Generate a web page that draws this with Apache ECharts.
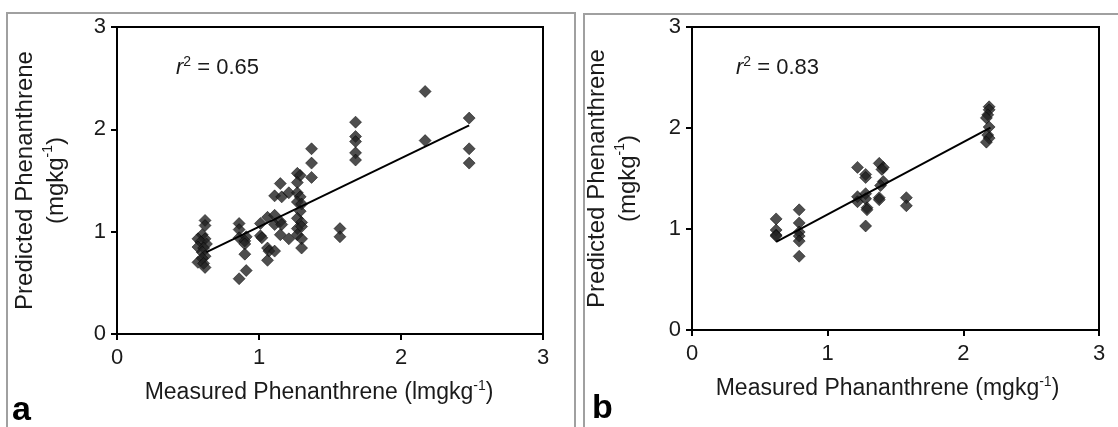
<!DOCTYPE html>
<html>
<head>
<meta charset="utf-8">
<script src="https://cdn.jsdelivr.net/npm/echarts@6/dist/echarts.min.js"></script>
<style>
  html, body { margin: 0; padding: 0; background: #fff; }
  #chart { width: 1118px; height: 427px; }
</style>
</head>
<body>
<div id="chart"></div>
<script>
// Panel a: measured vs predicted phenanthrene (mg/kg)
const measuredA = [
  0.62, 0.62, 0.60, 0.57, 0.62, 0.59, 0.63, 0.57, 0.61, 0.60, 0.62, 0.60, 0.57, 0.61, 0.62,
  0.86, 0.86, 0.86, 0.91, 0.90, 0.90, 0.90, 0.91, 0.86,
  1.01, 1.01, 1.02, 1.06, 1.06, 1.07, 1.06,
  1.11, 1.15, 1.16, 1.11, 1.15, 1.11, 1.16, 1.15, 1.11,
  1.21, 1.21,
  1.27, 1.29, 1.27, 1.27, 1.29, 1.27, 1.30, 1.29, 1.27, 1.30, 1.27, 1.30, 1.27, 1.30, 1.30,
  1.37, 1.37, 1.37,
  1.57, 1.57,
  1.68, 1.68, 1.68, 1.68, 1.68,
  2.17, 2.17,
  2.48, 2.48, 2.48
];
const predictedA = [
  1.11, 1.06, 0.97, 0.93, 0.93, 0.90, 0.88, 0.85, 0.84, 0.80, 0.76, 0.74, 0.70, 0.69, 0.65,
  1.08, 1.02, 0.94, 0.95, 0.91, 0.88, 0.78, 0.62, 0.54,
  1.08, 0.96, 0.94, 1.14, 0.84, 0.81, 0.72,
  1.35, 1.47, 1.34, 1.16, 1.10, 1.07, 1.07, 0.97, 0.81,
  1.38, 0.93,
  1.57, 1.55, 1.48, 1.38, 1.34, 1.29, 1.27, 1.20, 1.13, 1.09, 1.03, 1.05, 0.97, 0.93, 0.84,
  1.81, 1.67, 1.53,
  1.03, 0.95,
  2.07, 1.93, 1.88, 1.77, 1.70,
  2.37, 1.89,
  2.11, 1.81, 1.67
];
// Linear fit for panel a: predicted = interceptA + slopeA * measured
const slopeA = 0.670;
const interceptA = 0.378;
const fitRangeA = [0.63, 2.48];
const r2A = '0.65';

// Panel b
const measuredB = [
  0.62, 0.62, 0.62, 0.62,
  0.79, 0.79, 0.79, 0.79, 0.79, 0.79,
  1.22, 1.22, 1.22,
  1.28, 1.28, 1.28, 1.28, 1.29, 1.29, 1.28,
  1.38, 1.41, 1.40, 1.41, 1.39, 1.38, 1.38,
  1.58, 1.58,
  2.19, 2.19, 2.18, 2.17, 2.19, 2.18, 2.19, 2.17
];
const predictedB = [
  1.10, 0.99, 0.94, 0.93,
  1.19, 1.06, 0.97, 0.93, 0.88, 0.73,
  1.61, 1.32, 1.27,
  1.54, 1.51, 1.35, 1.30, 1.21, 1.19, 1.03,
  1.65, 1.61, 1.59, 1.47, 1.43, 1.31, 1.29,
  1.31, 1.23,
  2.21, 2.18, 2.13, 2.10, 2.01, 1.93, 1.90, 1.86
];
const slopeB = 0.715;
const interceptB = 0.430;
const fitRangeB = [0.62, 2.20];
const r2B = '0.83';

// Shared axis ticks
const axisMin = 0;
const axisMax = 3;
const axisStep = 1;

const FONT = '"Liberation Sans", Arial, Helvetica, sans-serif';
const INK = '#1a1a1a';

function pairs(xs, ys) { return xs.map((x, i) => [x, ys[i]]); }
function fitLine(range, a, b) { return range.map(x => [x, a + b * x]); }

function richTitle(size, lh) {
  return {
    t: { fontSize: size, fontFamily: FONT, color: INK, lineHeight: lh },
    sup: { fontSize: 14, fontFamily: FONT, color: INK, lineHeight: 16, verticalAlign: 'top' }
  };
}

function xAxisFor(gridIndex, name, gap, pad) {
  return {
    type: 'value', gridIndex, min: axisMin, max: axisMax, interval: axisStep,
    name, nameLocation: 'middle', nameGap: gap,
    nameTextStyle: { rich: richTitle(23, 28), padding: pad },
    axisLine: { show: true, lineStyle: { color: '#000', width: 2 } },
    axisTick: { show: true, inside: false, length: 6, lineStyle: { color: '#000', width: 2 } },
    axisLabel: { fontSize: 22, fontFamily: FONT, color: INK, margin: 13 },
    splitLine: { show: false }
  };
}
function yAxisFor(gridIndex, gap) {
  return {
    type: 'value', gridIndex, min: axisMin, max: axisMax, interval: axisStep,
    name: '{t|Predicted Phenanthrene}\n{t|(mgkg}{sup|-1}{t|)}',
    nameLocation: 'middle', nameGap: gap, nameRotate: 90,
    nameTextStyle: { rich: richTitle(24, 31), align: 'center' },
    axisLine: { show: true, lineStyle: { color: '#000', width: 2 } },
    axisTick: { show: true, inside: false, length: 6, lineStyle: { color: '#000', width: 2 } },
    axisLabel: { fontSize: 22, fontFamily: FONT, color: INK, margin: 11 },
    splitLine: { show: false }
  };
}

const markerStyle = { color: '#222', borderColor: '#000', borderWidth: 0.6 };

function r2Text(x, y, val) {
  return {
    type: 'text', left: x, top: y,
    style: {
      text: '{i|r}{s|2}{n| = ' + val + '}',
      rich: {
        i: { fontSize: 22, fontStyle: 'italic', fontFamily: FONT, fill: INK, lineHeight: 26 },
        s: { fontSize: 14, fontFamily: FONT, fill: INK, lineHeight: 14, verticalAlign: 'top' },
        n: { fontSize: 22, fontFamily: FONT, fill: INK, lineHeight: 26 }
      }
    }
  };
}

const chart = echarts.init(document.getElementById('chart'), null, { renderer: 'canvas' });
chart.setOption({
  animation: false,
  backgroundColor: '#fff',
  grid: [
    { left: 117, top: 27, width: 426, height: 307, show: true, borderColor: '#000', borderWidth: 2, containLabel: false },
    { left: 692, top: 27, width: 407, height: 303, show: true, borderColor: '#000', borderWidth: 2, containLabel: false }
  ],
  xAxis: [
    xAxisFor(0, '{t|Measured Phenanthrene (lmgkg}{sup|-1}{t|)}', 45, [0, 22, 0, 0]),
    xAxisFor(1, '{t|Measured Phananthrene (mgkg}{sup|-1}{t|)}', 45, [0, 16, 0, 0])
  ],
  yAxis: [yAxisFor(0, 45), yAxisFor(1, 48)],
  series: [
    { type: 'scatter', xAxisIndex: 0, yAxisIndex: 0, symbol: 'diamond', symbolSize: 12,
      itemStyle: markerStyle, data: pairs(measuredA, predictedA), z: 3 },
    { type: 'line', xAxisIndex: 0, yAxisIndex: 0, showSymbol: false, symbol: 'none',
      lineStyle: { color: '#000', width: 2 }, data: fitLine(fitRangeA, interceptA, slopeA), z: 4 },
    { type: 'scatter', xAxisIndex: 1, yAxisIndex: 1, symbol: 'diamond', symbolSize: 12,
      itemStyle: markerStyle, data: pairs(measuredB, predictedB), z: 3 },
    { type: 'line', xAxisIndex: 1, yAxisIndex: 1, showSymbol: false, symbol: 'none',
      lineStyle: { color: '#000', width: 2 }, data: fitLine(fitRangeB, interceptB, slopeB), z: 4 }
  ],
  graphic: [
    { type: 'rect', shape: { x: 7, y: 13, width: 568, height: 440 }, style: { fill: 'none', stroke: '#a0a0a0', lineWidth: 2 }, silent: true },
    { type: 'rect', shape: { x: 584, y: 14, width: 560, height: 440 }, style: { fill: 'none', stroke: '#a0a0a0', lineWidth: 2 }, silent: true },
    r2Text(176, 55, r2A),
    r2Text(736, 55, r2B),
    { type: 'text', left: 12, top: 394, style: { text: 'a', font: 'bold 34px ' + FONT, fill: '#000' } },
    { type: 'text', left: 592, top: 392, style: { text: 'b', font: 'bold 34px ' + FONT, fill: '#000' } }
  ]
});
</script>
</body>
</html>
